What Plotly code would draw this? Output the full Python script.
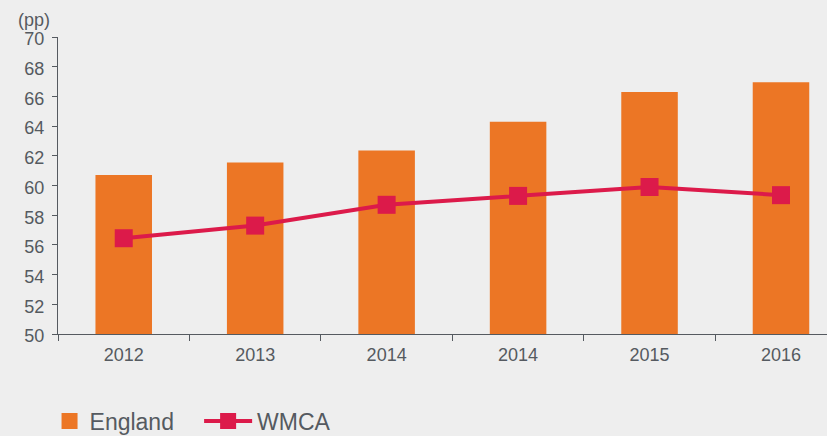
import plotly.graph_objects as go

categories = ["2012", "2013", "2014", "2014", "2015", "2016"]
england = [60.7, 61.55, 62.35, 64.3, 66.3, 66.95]
wmca = [56.45, 57.3, 58.7, 59.3, 59.9, 59.35]
y_ticks = [50, 52, 54, 56, 58, 60, 62, 64, 66, 68, 70]

x = list(range(len(categories)))
bar_col = "#EC7625"
line_col = "#DC1A4A"

fig = go.Figure()
fig.add_trace(go.Bar(
    x=x, y=[v - 50 for v in england], base=50, name="England", showlegend=False,
    marker=dict(color=bar_col, line=dict(width=0)), width=0.43,
))
# legend entry for the bars (bigger square swatch)
fig.add_trace(go.Scatter(
    x=[None], y=[None], name="England", mode="markers", legend="legend",
    marker=dict(symbol="square", size=16, color=bar_col),
))
fig.add_trace(go.Scatter(
    x=x, y=wmca, name="WMCA", mode="lines+markers", legend="legend2",
    line=dict(color=line_col, width=4),
    marker=dict(symbol="square", size=18, color=line_col),
))

axis_col = "#555a60"
fig.update_layout(
    width=827, height=436,
    margin=dict(l=58, r=0, t=37, b=102, autoexpand=False),
    paper_bgcolor="#EEEEEE", plot_bgcolor="#EEEEEE",
    font=dict(family="Liberation Sans, Arial, sans-serif", color=axis_col, size=18),
    showlegend=True,
    legend=dict(orientation="h", x=-0.011, y=-0.293, yanchor="middle", xanchor="left",
                font=dict(size=23, color=axis_col), itemwidth=30,
                bgcolor="rgba(0,0,0,0)"),
    legend2=dict(orientation="h", x=0.1835, y=-0.293, yanchor="middle", xanchor="left",
                 font=dict(size=23, color=axis_col), itemwidth=48,
                 bgcolor="rgba(0,0,0,0)"),
)
fig.update_xaxes(
    range=[-0.5, 5.35], tickvals=x, ticktext=categories, ticks="",
    showline=True, linecolor=axis_col, linewidth=1.3, showgrid=False, zeroline=False,
    tickfont=dict(size=18, color=axis_col), ticklabelstandoff=4,
    minor=dict(tick0=-0.5, dtick=1, ticks="outside", ticklen=6, tickcolor=axis_col,
               tickwidth=1.3, showgrid=False),
)
fig.update_yaxes(
    range=[50, 70], tickvals=y_ticks, ticks="outside", ticklen=5, tickcolor=axis_col,
    tickwidth=1.3, showline=True, linecolor=axis_col, linewidth=1.3, showgrid=False,
    zeroline=False, tickfont=dict(size=18, color=axis_col), ticklabelstandoff=4,
    ticklabelshift=2,
)
fig.add_annotation(text="(pp)", xref="paper", yref="paper", x=-0.054, y=1.0,
                   xanchor="left", yanchor="middle", yshift=17, showarrow=False,
                   font=dict(size=18, color=axis_col))
fig.write_html(
    "out.html",
    config={"displayModeBar": False},
    post_script="document.body.style.margin='0';document.body.style.overflow='hidden';"
                "document.body.style.background='#EEEEEE';",
)
